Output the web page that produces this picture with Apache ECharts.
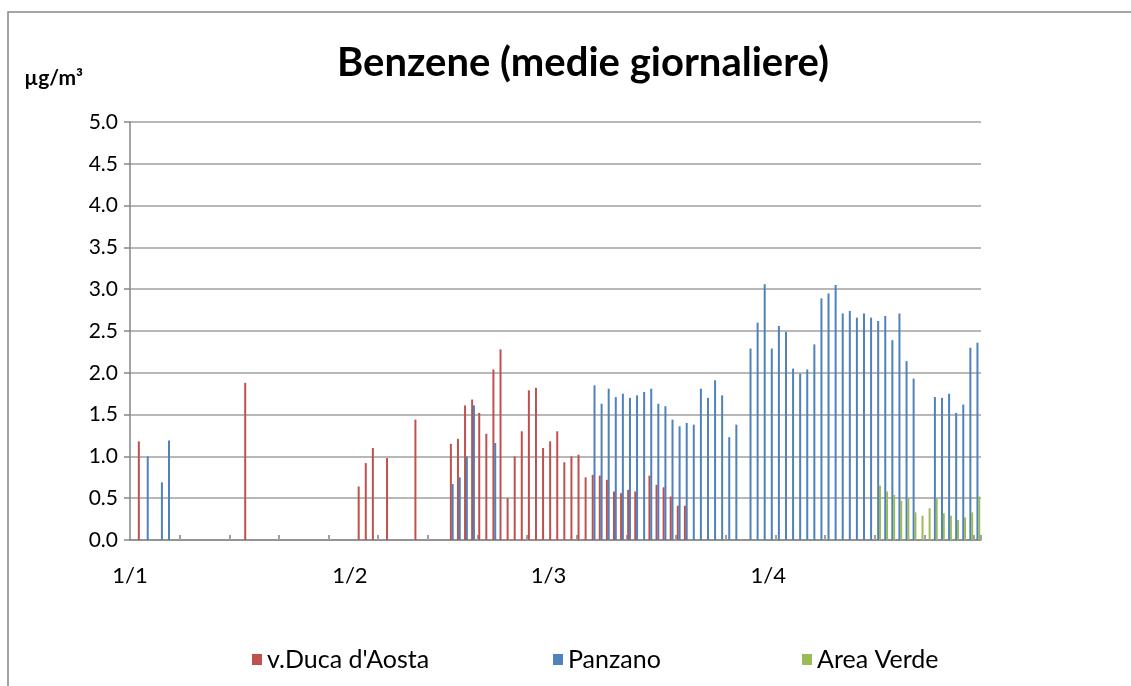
<!DOCTYPE html>
<html><head><meta charset="utf-8">
<script src="https://cdn.jsdelivr.net/npm/echarts@6/dist/echarts.min.js"></script>
<style>html,body{margin:0;padding:0;background:#fff}#c{width:1131px;height:686px}</style>
</head><body><div id="c"></div>
<script>
// Categories: every day from 1 January to 30 April (d/m)
const monthLengths = [31, 28, 31, 30];
const categories = [];
monthLengths.forEach((n, m) => { for (let d = 1; d <= n; d++) categories.push(d + '/' + (m + 1)); });
const tickLabels = ['1/1', '1/2', '1/3', '1/4'];
const minorStepDays = 7;
const yTickValues = [0, 0.5, 1, 1.5, 2, 2.5, 3, 3.5, 4, 4.5, 5];

// v.Duca d'Aosta
const ducaDates = ['2/1','17/1','2/2','3/2','4/2','6/2','10/2','15/2','16/2','17/2','18/2','19/2','20/2','21/2','22/2','23/2','24/2','25/2','26/2','27/2','28/2',
  '1/3','2/3','3/3','4/3','5/3','6/3','7/3','8/3','9/3','10/3','11/3','12/3','13/3','15/3','16/3','17/3','18/3','19/3','20/3'];
const ducaValues = [1.18,1.88,0.64,0.92,1.10,0.98,1.44,1.15,1.21,1.61,1.68,1.52,1.27,2.04,2.28,0.50,1.00,1.30,1.79,1.82,1.10,
  1.18,1.30,0.93,1.00,1.02,0.75,0.78,0.77,0.72,0.58,0.56,0.60,0.58,0.77,0.66,0.63,0.52,0.41,0.41];

// Panzano
const panzanoDates = ['3/1','5/1','6/1','15/2','16/2','17/2','18/2','21/2',
  '7/3','8/3','9/3','10/3','11/3','12/3','13/3','14/3','15/3','16/3','17/3','18/3','19/3','20/3','21/3','22/3','23/3','24/3','25/3','26/3','27/3','29/3','30/3','31/3',
  '1/4','2/4','3/4','4/4','5/4','6/4','7/4','8/4','9/4','10/4','11/4','12/4','13/4','14/4','15/4','16/4','17/4','18/4','19/4','20/4','21/4','24/4','25/4','26/4','27/4','28/4','29/4','30/4'];
const panzanoValues = [1.00,0.69,1.19,0.67,0.75,1.00,1.61,1.16,
  1.85,1.63,1.81,1.71,1.75,1.70,1.73,1.77,1.81,1.63,1.60,1.44,1.36,1.40,1.38,1.81,1.70,1.91,1.73,1.23,1.38,2.29,2.60,3.06,
  2.29,2.56,2.49,2.05,1.99,2.04,2.34,2.89,2.95,3.05,2.71,2.74,2.66,2.71,2.66,2.62,2.68,2.39,2.71,2.14,1.93,1.71,1.70,1.75,1.52,1.62,2.30,2.36];

// Area Verde
const verdeDates = ['16/4','17/4','18/4','19/4','20/4','21/4','22/4','23/4','24/4','25/4','26/4','27/4','28/4','29/4','30/4'];
const verdeValues = [0.65,0.58,0.54,0.47,0.50,0.33,0.29,0.38,0.50,0.32,0.29,0.24,0.27,0.33,0.52];

function toSeries(dates, values) {
  const arr = categories.map(() => '-');
  dates.forEach((d, i) => { arr[categories.indexOf(d)] = values[i]; });
  return arr;
}
const majorIdx = tickLabels.map(t => categories.indexOf(t));
const isMajor = (i) => majorIdx.indexOf(i) >= 0;
const isMinor = (i) => i > 0 && i % minorStepDays === 0;

const chart = echarts.init(document.getElementById('c'));
const legendText = { fontFamily: 'Lato', fontSize: 25, color: '#000' };
const legendBase = { icon: 'rect', itemWidth: 10, itemHeight: 11, top: 642, textStyle: legendText };
chart.setOption({
  animation: false,
  textStyle: { fontFamily: 'Lato' },
  title: {
    text: 'Benzene (medie giornaliere)', left: 578, textAlign: 'center', top: 38,
    textStyle: { fontFamily: 'Lato', fontWeight: 'bold', fontSize: 40, color: '#000' }
  },
  graphic: [{
    type: 'rect', silent: true, shape: { x: 8, y: 12, width: 1160, height: 720 },
    style: { fill: 'none', stroke: '#868686', lineWidth: 1.5 }
  }],
  legend: [
    Object.assign({ left: 247, data: ["v.Duca d'Aosta"] }, legendBase),
    Object.assign({ left: 548, data: ['Panzano'] }, legendBase),
    Object.assign({ left: 797, data: ['Area Verde'] }, legendBase)
  ],
  grid: { left: 130, right: 150, top: 122, bottom: 146, containLabel: false, outerBoundsMode: 'none' },
  xAxis: [{
    type: 'category', data: categories, boundaryGap: true, position: 'bottom',
    axisLine: { lineStyle: { color: '#868686', width: 1.5 } },
    axisTick: { interval: isMajor, length: 7, lineStyle: { color: '#868686', width: 1.5 } },
    axisLabel: { interval: isMajor, margin: 25, fontSize: 22, color: '#000', padding: [0, 7, 0, 0] },
    splitLine: { show: false }
  }, {
    type: 'category', data: categories, boundaryGap: true, position: 'bottom',
    min: 0, max: categories.length - 1,
    axisLine: { show: false }, axisLabel: { show: false }, splitLine: { show: false },
    axisTick: { show: true, inside: true, interval: isMinor, length: 5, lineStyle: { color: '#a0a0a0', width: 2 } }
  }],
  yAxis: {
    type: 'value', min: yTickValues[0], max: yTickValues[yTickValues.length - 1], interval: 0.5,
    name: 'µg/m³', nameLocation: 'end', nameGap: 33,
    nameTextStyle: { fontFamily: 'Lato', fontWeight: 'bold', fontSize: 21, align: 'right', padding: [0, 47, 0, 0], color: '#000' },
    axisLine: { show: true, lineStyle: { color: '#868686', width: 1.5 } },
    axisTick: { show: true, length: 6, lineStyle: { color: '#868686', width: 1.5 } },
    axisLabel: { formatter: v => v.toFixed(1), fontSize: 21, margin: 12, color: '#000' },
    splitLine: { lineStyle: { color: '#a0a0a0', width: 1.5 } }
  },
  series: [
    { name: "v.Duca d'Aosta", type: 'bar', data: toSeries(ducaDates, ducaValues), barWidth: 2, barGap: '-10%', itemStyle: { color: '#C0504D' } },
    { name: 'Panzano', type: 'bar', data: toSeries(panzanoDates, panzanoValues), barWidth: 2, barGap: '-10%', itemStyle: { color: '#4F81BD' } },
    { name: 'Area Verde', type: 'bar', data: toSeries(verdeDates, verdeValues), barWidth: 2, barGap: '-10%', itemStyle: { color: '#9BBB59' } }
  ]
});
</script>
</body></html>
